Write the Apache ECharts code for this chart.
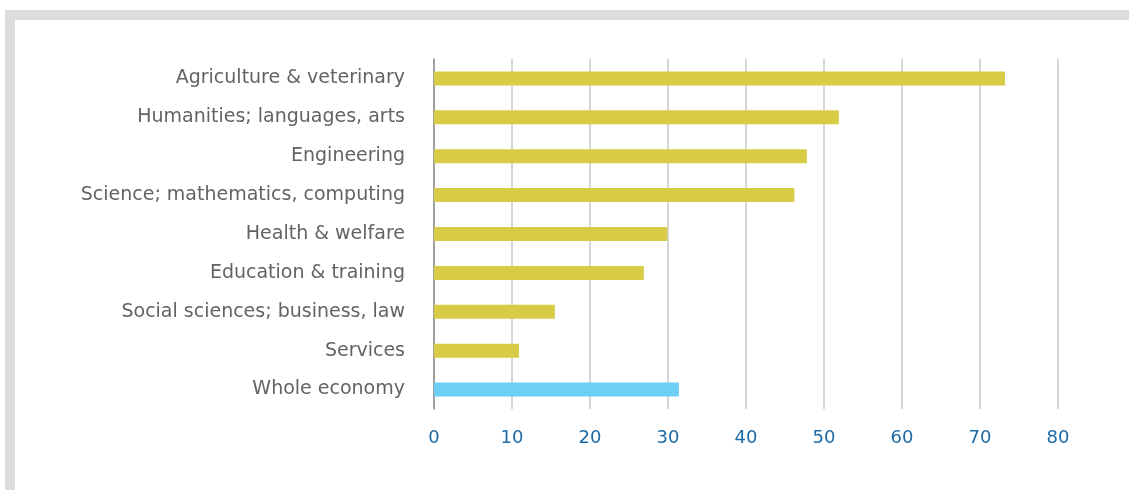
<!DOCTYPE html>
<html>
<head>
<meta charset="utf-8">
<script src="https://cdn.jsdelivr.net/npm/echarts@6/dist/echarts.min.js"></script>
<style>
  html, body { margin: 0; padding: 0; background: #ffffff; }
  #frame { position: absolute; left: 0; top: 0; width: 1129px; height: 490px; }
  #topbar { position: absolute; left: 5px; top: 10px; width: 1124px; height: 10px; background: #dcdddf; }
  #leftbar { position: absolute; left: 5px; top: 10px; width: 10px; height: 480px; background: #dcdddf; }
  #chart { position: absolute; left: 0; top: 0; width: 1129px; height: 490px; }
</style>
</head>
<body>
<div id="frame">
  <div id="topbar"></div>
  <div id="leftbar"></div>
  <div id="chart"></div>
</div>
<script>
// Fields of study, top to bottom
const categories = [
  'Agriculture & veterinary',
  'Humanities; languages, arts',
  'Engineering',
  'Science; mathematics, computing',
  'Health & welfare',
  'Education & training',
  'Social sciences; business, law',
  'Services',
  'Whole economy'
];
const values = [73.2, 51.9, 47.8, 46.2, 29.9, 26.9, 15.5, 10.9, 31.4];
const xTicks = [0, 10, 20, 30, 40, 50, 60, 70, 80];

const fieldColor = '#d8cb46';
const totalColor = '#6dcff6';

const chart = echarts.init(document.getElementById('chart'), null, { renderer: 'canvas' });
chart.setOption({
  animation: false,
  backgroundColor: 'transparent',
  grid: { left: 434, right: 71, top: 59, bottom: 81, containLabel: false },
  xAxis: {
    type: 'value',
    min: xTicks[0],
    max: xTicks[xTicks.length - 1],
    interval: 10,
    axisLine: { show: false },
    axisTick: { show: false },
    splitLine: { show: true, lineStyle: { color: '#c8c8c8', width: 1.5 } },
    axisLabel: {
      color: '#1c6ba7',
      fontSize: 18,
      fontFamily: 'DejaVu Sans',
      margin: 20
    }
  },
  yAxis: {
    type: 'category',
    data: categories,
    inverse: true,
    axisLine: { show: true, lineStyle: { color: '#8c8c8c', width: 1.5 } },
    axisTick: { show: false },
    axisLabel: {
      color: '#636363',
      fontSize: 19,
      fontFamily: 'DejaVu Sans',
      margin: 29
    }
  },
  series: [{
    type: 'bar',
    barWidth: 14,
    data: values.map((v, i) => ({
      value: v,
      itemStyle: { color: i === values.length - 1 ? totalColor : fieldColor }
    }))
  }]
});
</script>
</body>
</html>
